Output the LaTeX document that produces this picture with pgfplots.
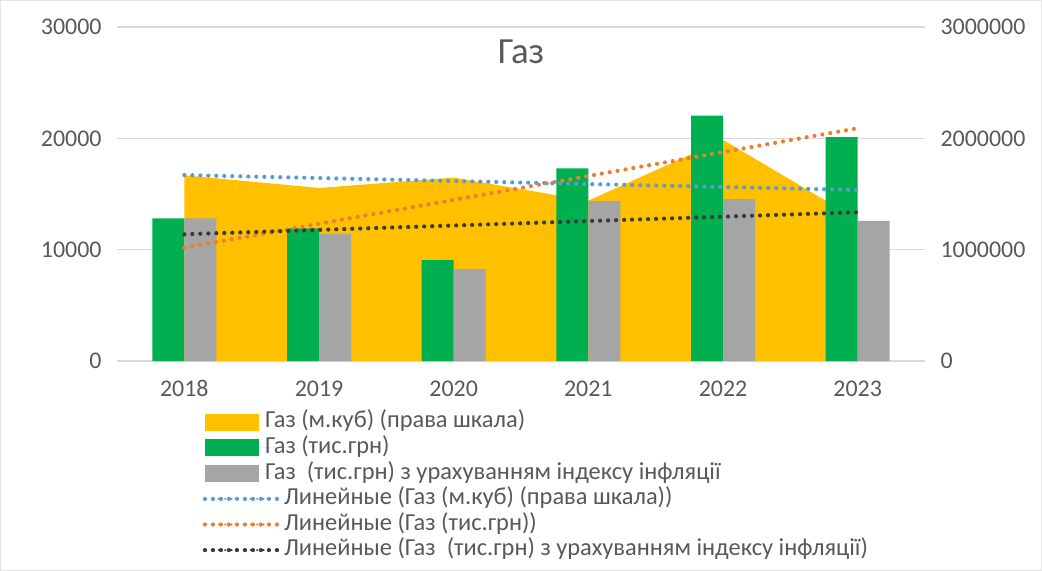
\documentclass[border=0pt]{standalone}
\usepackage{pgfplots}
\pgfplotsset{compat=1.18}
\usepackage{pgfplotstable}
\usepackage{fontspec}
\setmainfont{Carlito}
\definecolor{cArea}{HTML}{FFC000}
\definecolor{cGreen}{HTML}{00B050}
\definecolor{cGray}{HTML}{A5A5A5}
\definecolor{cBlue}{HTML}{5B9BD5}
\definecolor{cOrange}{HTML}{ED7D31}
\definecolor{cBlack}{HTML}{3A3A3A}
\definecolor{txt}{HTML}{595959}
\definecolor{grid}{HTML}{D9D9D9}

\pgfplotstableread{
x area green gray
0 1668000 12820 12820
1 1554000 11920 11410
2 1647000 9070 8270
3 1440000 17310 14380
4 1986000 22040 14530
5 1270000 20100 12580
}\gasdata
\pgfplotstableread{
x blue orange black
0 1670000 10180 11380
5 1536000 20910 13360
}\trenddata

\begin{document}
\begin{tikzpicture}
\fill[white] (0,0) rectangle (1042bp,571bp);
\draw[line width=1.2bp, color=grid!70] (0.6bp,0.6bp) rectangle (1041.4bp,570.4bp);
\begin{axis}[
  at={(117bp,210bp)}, anchor=south west,
  scale only axis, width=808bp, height=334bp,
  xmin=-0.5, xmax=5.5, ymin=0, ymax=30000,
  scaled y ticks=false,
  xtick={0,1,2,3,4,5}, xticklabels={2018,2019,2020,2021,2022,2023},
  ytick={0,10000,20000,30000}, yticklabels={0,10000,20000,30000},
  axis x line*=bottom, axis y line*=left,
  y axis line style={draw=none},
  x axis line style={color=grid, line width=1.2bp},
  ymajorgrids, grid style={color=grid, line width=1.2bp},
  major tick length=0pt,
  tick label style={font=\fontsize{24}{28}\selectfont, text=txt},
  yticklabel style={anchor=east, xshift=-12bp},
  xticklabel style={anchor=north, yshift=-16bp, text height=16bp, text depth=0bp},
  legend style={at={(0.106,-0.144)}, anchor=north west, draw=none, fill=none,
    font=\fontsize{24.5}{25.6}\selectfont, text=txt, row sep=0bp,
    inner sep=0pt,
    nodes={inner sep=1bp, text height=17.6bp, text depth=6bp}},
  legend cell align=left,
  clip=false,
]
\addplot[fill=cArea, draw=none,
  legend image code/.code={\fill[cArea] (0bp,-8.5bp) rectangle (54bp,8.5bp);\path (0bp,0bp) -- (76bp,0bp);}]
  table[x=x, y expr=\thisrow{area}/100] {\gasdata} \closedcycle;
\addlegendentry{\hspace*{-19bp}Газ (м.куб) (права шкала)}
\addplot[ybar, bar width=32bp, bar shift=-16bp, fill=cGreen, draw=none,
  legend image code/.code={\fill[cGreen] (0bp,-8.5bp) rectangle (54bp,8.5bp);\path (0bp,0bp) -- (76bp,0bp);}]
  table[x=x, y=green] {\gasdata};
\addlegendentry{\hspace*{-19bp}Газ (тис.грн)}
\addplot[ybar, bar width=32bp, bar shift=16bp, fill=cGray, draw=none,
  legend image code/.code={\fill[cGray] (0bp,-8.5bp) rectangle (54bp,8.5bp);\path (0bp,0bp) -- (76bp,0bp);}]
  table[x=x, y=gray] {\gasdata};
\addlegendentry{\hspace*{-19bp}Газ\ \ (тис.грн) з урахуванням індексу інфляції}
\addplot[cBlue, line width=4.2bp, dash pattern=on 0bp off 8bp, line cap=round,
  legend image code/.code={\draw[cBlue, line width=2.3bp, dash pattern=on 0bp off 6.4bp, line cap=round] (1bp,0bp) -- (62bp,0bp);\path (0bp,0bp) -- (76bp,0bp);}]
  table[x=x, y expr=\thisrow{blue}/100] {\trenddata};
\addlegendentry{Линейные (Газ (м.куб) (права шкала))}
\addplot[cOrange, line width=4.2bp, dash pattern=on 0bp off 8bp, line cap=round,
  legend image code/.code={\draw[cOrange, line width=2.3bp, dash pattern=on 0bp off 6.4bp, line cap=round] (1bp,0bp) -- (62bp,0bp);\path (0bp,0bp) -- (76bp,0bp);}]
  table[x=x, y=orange] {\trenddata};
\addlegendentry{Линейные (Газ (тис.грн))}
\addplot[cBlack, line width=4.2bp, dash pattern=on 0bp off 8bp, line cap=round,
  legend image code/.code={\draw[cBlack, line width=2.3bp, dash pattern=on 0bp off 6.4bp, line cap=round] (1bp,0bp) -- (62bp,0bp);\path (0bp,0bp) -- (76bp,0bp);}]
  table[x=x, y=black] {\trenddata};
\addlegendentry{Линейные (Газ\ \ (тис.грн) з урахуванням індексу інфляції)}
\node[font=\fontsize{37}{44}\selectfont, text=txt] at (rel axis cs:0.5,0.925) {Газ};
\end{axis}
\begin{axis}[
  at={(117bp,210bp)}, anchor=south west,
  scale only axis, width=808bp, height=334bp,
  xmin=-0.5, xmax=5.5, ymin=0, ymax=3000000,
  scaled y ticks=false,
  axis x line=none, axis y line*=right,
  y axis line style={draw=none},
  ytick={0,1000000,2000000,3000000}, yticklabels={0,1000000,2000000,3000000},
  major tick length=0pt,
  tick label style={font=\fontsize{24}{28}\selectfont, text=txt},
  yticklabel style={anchor=west, xshift=12bp},
]
\addplot[draw=none] coordinates {(0,0)};
\end{axis}
\end{tikzpicture}
\end{document}
